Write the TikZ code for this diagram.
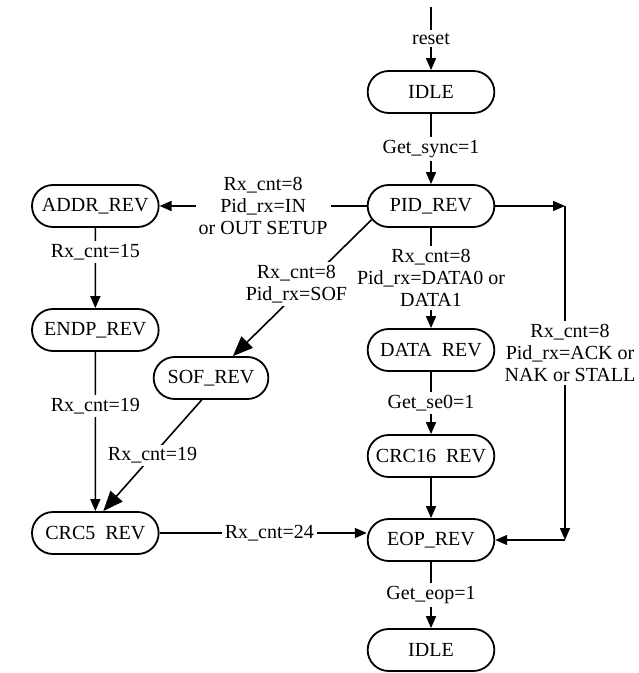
\documentclass[tikz,border=0pt]{standalone}
\usepackage{fontspec}
\setmainfont{Liberation Serif}
\usepackage{tikz}
\usetikzlibrary{arrows.meta,positioning,shapes.misc}

\begin{document}
\begin{tikzpicture}[
  x=0.5pt, y=-0.5pt,
  state/.style={rounded rectangle, draw, line width=0.9pt, minimum width=70pt, minimum height=21pt, font=\fontsize{10}{11}\selectfont},
  cond/.style={fill=white, inner sep=1.5pt, align=center, font=\fontsize{10}{11}\selectfont},
  >={Triangle[length=6pt,width=5pt]},
  big/.style={-{Triangle[length=10pt,width=8pt]}},
  line width=0.8pt
]
\useasboundingbox (0,0) rectangle (638,673);

% Main column
\node[state] (idle) at (431,92) {IDLE};
\node[state, below=35.1pt of idle] (pid) {PID\_REV};
\node[state, below=50.1pt of pid] (data) {DATA\ \ REV};
\node[state, below=31.1pt of data] (crc16) {CRC16\ \ REV};
\node[state, below=20.1pt of crc16] (eop) {EOP\_REV};
\node[state, below=33.1pt of eop] (idleb) {IDLE};

% Token branch
\node[state, left=103.6pt of pid] (addr) {ADDR\_REV};
\node[state, below=40.1pt of addr] (endp) {ENDP\_REV};
\node[state, below=79.6pt of endp] (crc5) {CRC5\ \ REV};

% SOF branch
\node[state, minimum width=64pt] (sof) at (211,378) {SOF\_REV};

% Handshake path
\coordinate[above=31.5pt of idle] (start);
\coordinate (rx) at (565,0);
\coordinate (rt) at (pid.east -| rx);
\coordinate (rb) at (eop.east -| rx);

\draw[->] (start) -- node[cond] {reset} (idle);
\draw[->] (idle) -- node[cond] {Get\_sync=1} (pid);
\draw[->] (pid) -- node[cond] {Rx\_cnt=8\\Pid\_rx=IN\\or OUT SETUP} (addr);
\draw[->] (addr) -- node[cond, pos=0.3] {Rx\_cnt=15} (endp);
\draw[->] (endp) -- node[cond, pos=0.34] {Rx\_cnt=19} (crc5);
\draw[big] (pid.193) -- node[cond, pos=0.47, xshift=-5pt] {Rx\_cnt=8\\Pid\_rx=SOF} (sof.45);
\draw[big] (sof.247) -- node[cond] {Rx\_cnt=19} (crc5.70);
\draw[->] (crc5.east) -- node[cond, pos=0.53] {Rx\_cnt=24} (crc5.east -| eop.west);
\draw[->] (pid) -- node[cond] {Rx\_cnt=8\\Pid\_rx=DATA0 or\\DATA1} (data);
\draw[->] (data) -- node[cond] {Get\_se0=1} (crc16);
\draw[->] (crc16) -- (eop);
\draw[->] (eop) -- node[cond] {Get\_eop=1} (idleb);
\draw[->] (pid) -- (rt);
\draw[->] (rt) -- node[cond, pos=0.44, xshift=2.5pt] {Rx\_cnt=8\\Pid\_rx=ACK or\\NAK or STALL} (rb);
\draw[->] (rb) -- (eop);
\end{tikzpicture}
\end{document}
